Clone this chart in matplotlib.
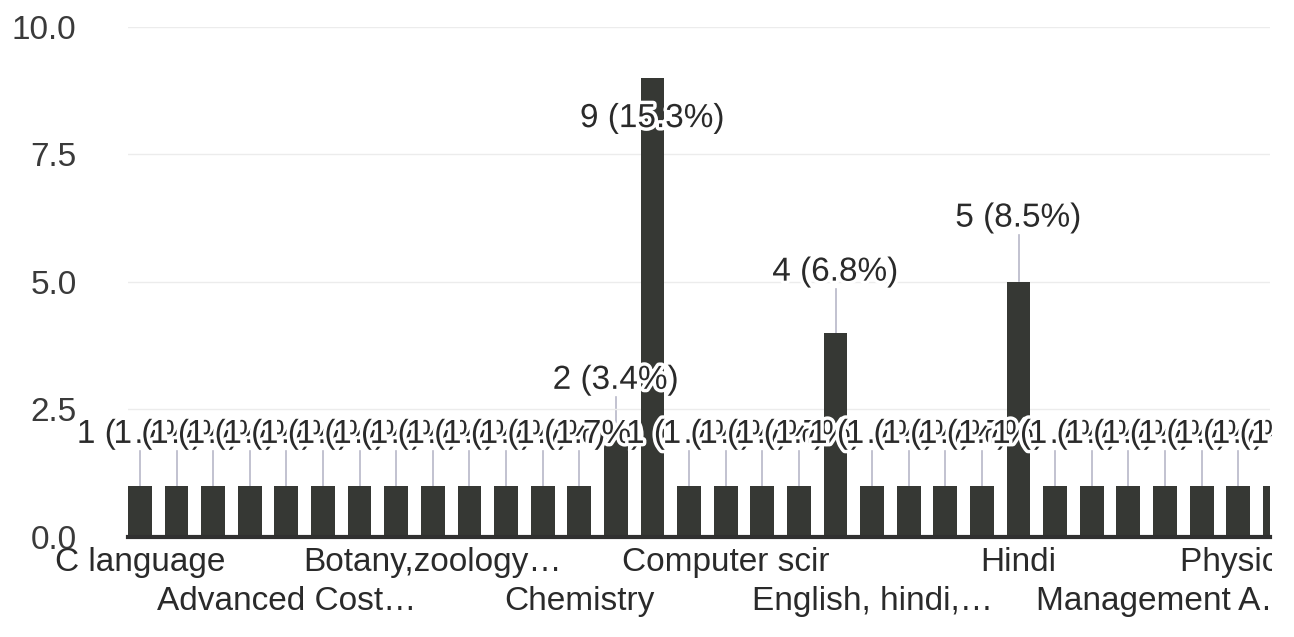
import matplotlib
matplotlib.use("Agg")
import matplotlib.pyplot as plt
import matplotlib.patheffects as pe
from matplotlib.transforms import Bbox, TransformedBbox, blended_transform_factory

# ---------------------------------------------------------
# DATA (responses per subject, the visible part of the chart)
# ---------------------------------------------------------
counts = [1, 1, 1, 1, 1, 1, 1, 1, 1, 1, 1, 1, 1,
          2, 9,
          1, 1, 1, 1,
          4,
          1, 1, 1, 1,
          5,
          1, 1, 1, 1, 1, 1, 1]
total_responses = 59

tick_positions = [1, 5, 9, 13, 17, 21, 25, 29, 33]
tick_labels = ["C language", "Advanced Cost…", "Botany,zoology…", "Chemistry",
               "Computer scir", "English, hindi,…", "Hindi", "Management A…",
               "Physics, Chemi…"]

y_ticks = [0.0, 2.5, 5.0, 7.5, 10.0]

plt.rcParams['font.family'] = ['Liberation Sans', 'DejaVu Sans']

fig = plt.figure(figsize=(12.94, 6.37), dpi=100)
ax = fig.add_axes([0.0989, 0.157, 0.8826, 0.801])

positions = list(range(1, len(counts) + 1))
ax.bar(positions, counts, width=0.65, color="#363834", zorder=2)

ax.set_xlim(0.673, 31.87)
ax.set_ylim(0, 10)

# clip everything at the right edge of the plot, like the cropped original
clip = TransformedBbox(Bbox([[0, 0], [1272 / 1294, 1]]), fig.transFigure)
halo = [pe.withStroke(linewidth=5, foreground="white")]

# data labels with leader lines
for i, (x, c) in enumerate(zip(positions, counts)):
    pct = 100.0 * c / total_responses
    if c == max(counts):
        ly = c - 0.8
    else:
        ly = c + 0.95 + 0.06 * c
        ax.plot([x, x], [c, ly - 0.33], color="#b8b8c8", lw=1.2, zorder=1)
    t = ax.text(x, ly, f"{c} ({pct:.1f}%)", ha="center", va="center",
                fontsize=24, color="#2a2a2a", zorder=3 + i, path_effects=halo)
    t.set_clip_box(clip)
    t.set_clip_on(True)

# x category labels, alternating in two rows
trans = blended_transform_factory(ax.transData, ax.transAxes)
for k, (x, lab) in enumerate(zip(tick_positions, tick_labels)):
    yy = -0.02 if k % 2 == 0 else -0.097
    t = ax.text(x, yy, lab, ha="center", va="top", fontsize=24,
                color="#2a2a2a", transform=trans)
    t.set_clip_box(clip)
    t.set_clip_on(True)

ax.set_xticks([])
ax.set_yticks(y_ticks)
ax.set_yticklabels([f"{v:.1f}" for v in y_ticks], fontsize=24, color="#3a3a3a")
ax.tick_params(axis="y", length=0, pad=37)

ax.grid(axis="y", color="#ececec", lw=1, zorder=0)
for s in ["top", "right", "left"]:
    ax.spines[s].set_visible(False)
ax.spines["bottom"].set_color("#303030")
ax.spines["bottom"].set_linewidth(3)
ax.spines["bottom"].set_zorder(5)

fig.savefig("out.png", dpi=100, facecolor="white")
